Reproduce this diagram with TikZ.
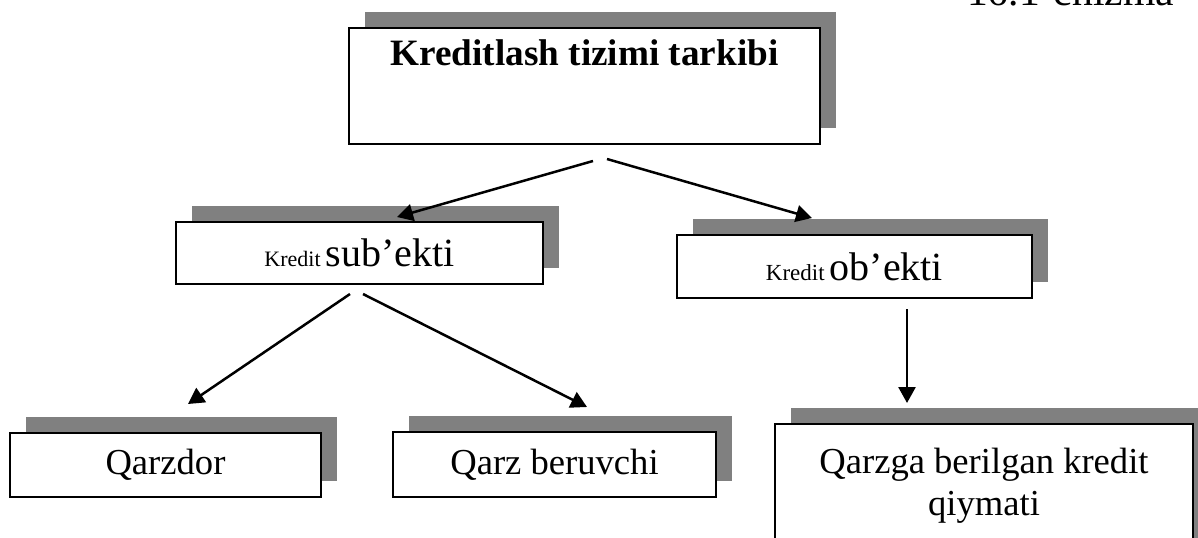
\documentclass[tikz,border=0pt]{standalone}
\usepackage{fontspec}
\setmainfont{Liberation Serif}
\usepackage{tikz}
\usetikzlibrary{positioning,shadows,arrows.meta}
\definecolor{shade}{HTML}{808080}

\begin{document}
\begin{tikzpicture}[x=0.5pt, y=-0.5pt,
        box/.style={draw, line width=1pt, fill=white, inner sep=0pt,
            general shadow={fill=shade, shadow xshift=8pt, shadow yshift=8pt}},
        link/.style={draw, line width=1.25pt, -{Triangle[length=8pt,width=8.5pt]}},
        big/.style={font=\fontsize{18.3}{22}\selectfont}
    ]
        \useasboundingbox (0,0) rectangle (1198,537);
        \clip (0,0) rectangle (1198,537);

        % Nodes
        \node[anchor=base west, font=\fontsize{20.8}{25}\selectfont] (caption) at (960,5) {16.1-chizma};
        \node[box, minimum width=235.5pt, text height=18.5pt, text depth=39.5pt,
            font=\bfseries\fontsize{18.6}{22}\selectfont] (system) at (584.5,86) {Kreditlash tizimi tarkibi};
        \node[box, minimum width=183.5pt, minimum height=31pt] (subject) at (359.5,253)
            {{\fontsize{11}{13}\selectfont Kredit} {\fontsize{20}{24}\selectfont sub’ekti}};
        \node[box, minimum width=177.5pt, minimum height=31.5pt] (object) at (854.5,266.5)
            {{\fontsize{11.5}{13}\selectfont Kredit} {\fontsize{20}{24}\selectfont ob’ekti}};
        \node[box, big, minimum width=155.5pt, minimum height=32pt] (debtor) at (165.5,465) {Qarzdor};
        \node[box, big, minimum width=161.5pt, minimum height=32.5pt] (lender) at (554.5,464.5) {Qarz beruvchi};
        \node[box, big, anchor=north, minimum width=209pt, text height=24.5pt, text depth=60pt] (value) at (984,423)
            {\parbox[t]{205pt}{\centering\baselineskip=21pt Qarzga berilgan kredit\\qiymati}};

        % Edges
        \draw[link] ([xshift=4.25pt,yshift=-8pt]system.south) -- ([xshift=18.75pt,yshift=2pt]subject.north);
        \draw[link] ([xshift=11.25pt,yshift=-7pt]system.south) -- ([xshift=-21.25pt,yshift=8pt]object.north);
        \draw[link] ([xshift=-4.75pt,yshift=-4.5pt]subject.south) -- ([xshift=11.25pt,yshift=14pt]debtor.north);
        \draw[link] ([xshift=1.75pt,yshift=-4.5pt]subject.south) -- ([xshift=16.25pt,yshift=12pt]lender.north);
        \draw[link] ([xshift=26.25pt,yshift=-5pt]object.south) -- ([xshift=-38.5pt,yshift=10pt]value.north);
    \end{tikzpicture}
\end{document}
